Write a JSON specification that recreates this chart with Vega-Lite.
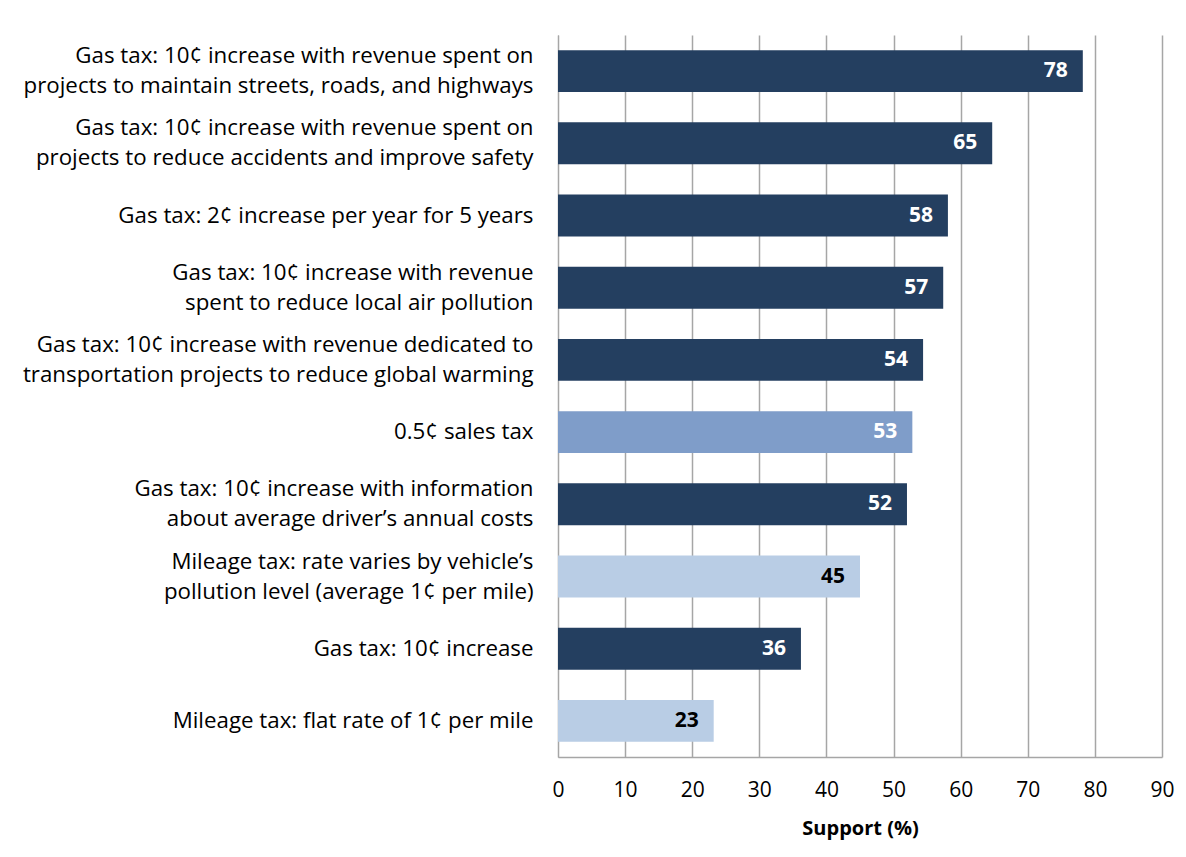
{
  "$schema": "https://vega.github.io/schema/vega-lite/v6.json",
  "width": 604,
  "height": 722,
  "padding": {"left": 20, "top": 35, "right": 10, "bottom": 10},
  "background": "white",
  "config": {"view": {"stroke": null}, "font": "Open Sans"},
  "data": {
    "values": [
      {"label": "Gas tax: 10¢ increase with revenue spent on |projects to maintain streets, roads, and highways", "support": 78.2, "type": "gas"},
      {"label": "Gas tax: 10¢ increase with revenue spent on|projects to reduce accidents and improve safety", "support": 64.7, "type": "gas"},
      {"label": "Gas tax: 2¢ increase per year for 5 years", "support": 58.1, "type": "gas"},
      {"label": "Gas tax: 10¢ increase with revenue|spent to reduce local air pollution ", "support": 57.4, "type": "gas"},
      {"label": "Gas tax: 10¢ increase with revenue dedicated to |transportation projects to reduce global warming", "support": 54.4, "type": "gas"},
      {"label": "0.5¢ sales tax", "support": 52.8, "type": "sales"},
      {"label": "Gas tax: 10¢ increase with information|about average driver’s annual costs ", "support": 52.0, "type": "gas"},
      {"label": "Mileage tax: rate varies by vehicle’s|pollution level (average 1¢ per mile)", "support": 45.0, "type": "mileage"},
      {"label": "Gas tax: 10¢ increase", "support": 36.2, "type": "gas"},
      {"label": "Mileage tax: flat rate of 1¢ per mile", "support": 23.2, "type": "mileage"}
    ]
  },
  "encoding": {
    "y": {
      "field": "label",
      "type": "nominal",
      "sort": null,
      "scale": {"paddingInner": 0.42, "paddingOuter": 0.21},
      "axis": {
        "title": null,
        "labelExpr": "split(datum.label, '|')",
        "labelFont": "Open Sans",
        "labelFontSize": 22.3,
        "labelColor": "#000000",
        "labelLineHeight": 30,
        "labelOffset": {"condition": {"test": "indexof(datum.label, '|') >= 0", "value": -15}, "value": 0},
        "labelPadding": 25,
        "labelLimit": 600,
        "ticks": false,
        "domain": true,
        "domainColor": "#a6a6a6",
        "minExtent": 538,
        "maxExtent": 538
      }
    },
    "x": {
      "field": "support",
      "type": "quantitative",
      "scale": {"domain": [0, 90], "nice": false},
      "axis": {
        "title": "Support (%)",
        "titleFont": "Open Sans",
        "titleFontSize": 20,
        "titleFontWeight": "bold",
        "titleColor": "#000000",
        "titlePadding": 18,
        "values": [0, 10, 20, 30, 40, 50, 60, 70, 80, 90],
        "labelFont": "Open Sans",
        "labelFontSize": 21,
        "labelColor": "#000000",
        "labelPadding": 22,
        "labelFlush": false,
        "labelOverlap": false,
        "ticks": false,
        "grid": true,
        "gridColor": "#a6a6a6",
        "gridWidth": 1.5,
        "domainColor": "#a6a6a6",
        "domainWidth": 1.5
      }
    }
  },
  "layer": [
    {
      "mark": {"type": "bar"},
      "encoding": {
        "color": {
          "field": "type",
          "type": "nominal",
          "scale": {"domain": ["gas", "sales", "mileage"], "range": ["#243F60", "#7F9DC9", "#B9CDE5"]},
          "legend": null
        }
      }
    },
    {
      "mark": {"type": "text", "align": "right", "dx": -15, "fontSize": 21, "fontWeight": "bold", "font": "Open Sans"},
      "encoding": {
        "text": {"field": "support", "type": "quantitative", "format": ".0f"},
        "color": {
          "condition": {"test": "datum.type === 'mileage'", "value": "#000000"},
          "value": "#ffffff"
        }
      }
    }
  ]
}
